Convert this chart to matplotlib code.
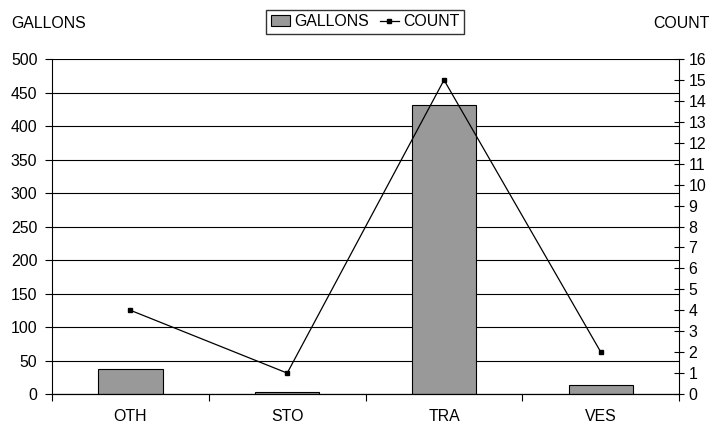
#!/usr/bin/env python3
"""Gallons (bars) and count (line) by source category, twin y axes."""

import matplotlib

matplotlib.use("Agg")
import matplotlib.pyplot as plt
import numpy as np

categories = ["OTH", "STO", "TRA", "VES"]
gallons = [38, 3, 432, 13]
count = [4, 1, 15, 2]

plt.rcParams["font.family"] = ["Liberation Sans", "DejaVu Sans"]
plt.rcParams["font.size"] = 11.4


def main() -> None:
    fig = plt.figure(figsize=(7.12, 4.28), dpi=100)
    ax = fig.add_axes([0.073, 0.0794, 0.881, 0.7826])
    x = np.arange(len(categories))

    ax.bar(x, gallons, width=0.41, color="#999999", edgecolor="black",
           linewidth=0.8, label="GALLONS", zorder=2)
    ax.set_xlim(-0.5, len(categories) - 0.5)
    ax.set_ylim(0, 500)
    ax.set_yticks(np.arange(0, 501, 50))
    ax.grid(axis="y", color="black", linewidth=0.8, zorder=0)
    ax.set_axisbelow(True)

    ax.set_xticks(x)
    ax.set_xticklabels(categories)
    ax.set_xticks(np.arange(-0.5, len(categories)), minor=True)
    ax.tick_params(axis="x", which="major", length=0, pad=11)
    ax.tick_params(axis="x", which="minor", length=5, direction="out", width=0.8)
    ax.tick_params(axis="y", length=5, direction="out", width=0.8, pad=5.5)

    ax.spines["top"].set_visible(False)
    ax.spines["right"].set_visible(False)

    ax2 = ax.twinx()
    ax2.plot(x, count, color="black", linewidth=0.9, marker="s",
             markersize=3, label="COUNT", zorder=3)
    ax2.set_ylim(0, 16)
    ax2.set_yticks(np.arange(0, 17, 1))
    ax2.tick_params(axis="y", length=7, direction="inout", width=0.8, pad=3)
    ax2.spines["top"].set_visible(False)
    ax2.spines["left"].set_visible(False)

    for sp in list(ax.spines.values()) + list(ax2.spines.values()):
        sp.set_linewidth(0.8)

    fig.text(0.016, 0.945, "GALLONS", ha="left", va="center")
    fig.text(0.997, 0.945, "COUNT", ha="right", va="center")

    h1, l1 = ax.get_legend_handles_labels()
    h2, l2 = ax2.get_legend_handles_labels()
    fig.legend(h1 + h2, l1 + l2, loc="center", bbox_to_anchor=(0.513, 0.949),
               ncol=2, frameon=True, fancybox=False, edgecolor="black",
               handlelength=1.2, handletextpad=0.25, columnspacing=0.7,
               borderpad=0.3, borderaxespad=0)

    fig.savefig("out.png", dpi=100)
    plt.close(fig)


if __name__ == "__main__":
    main()
